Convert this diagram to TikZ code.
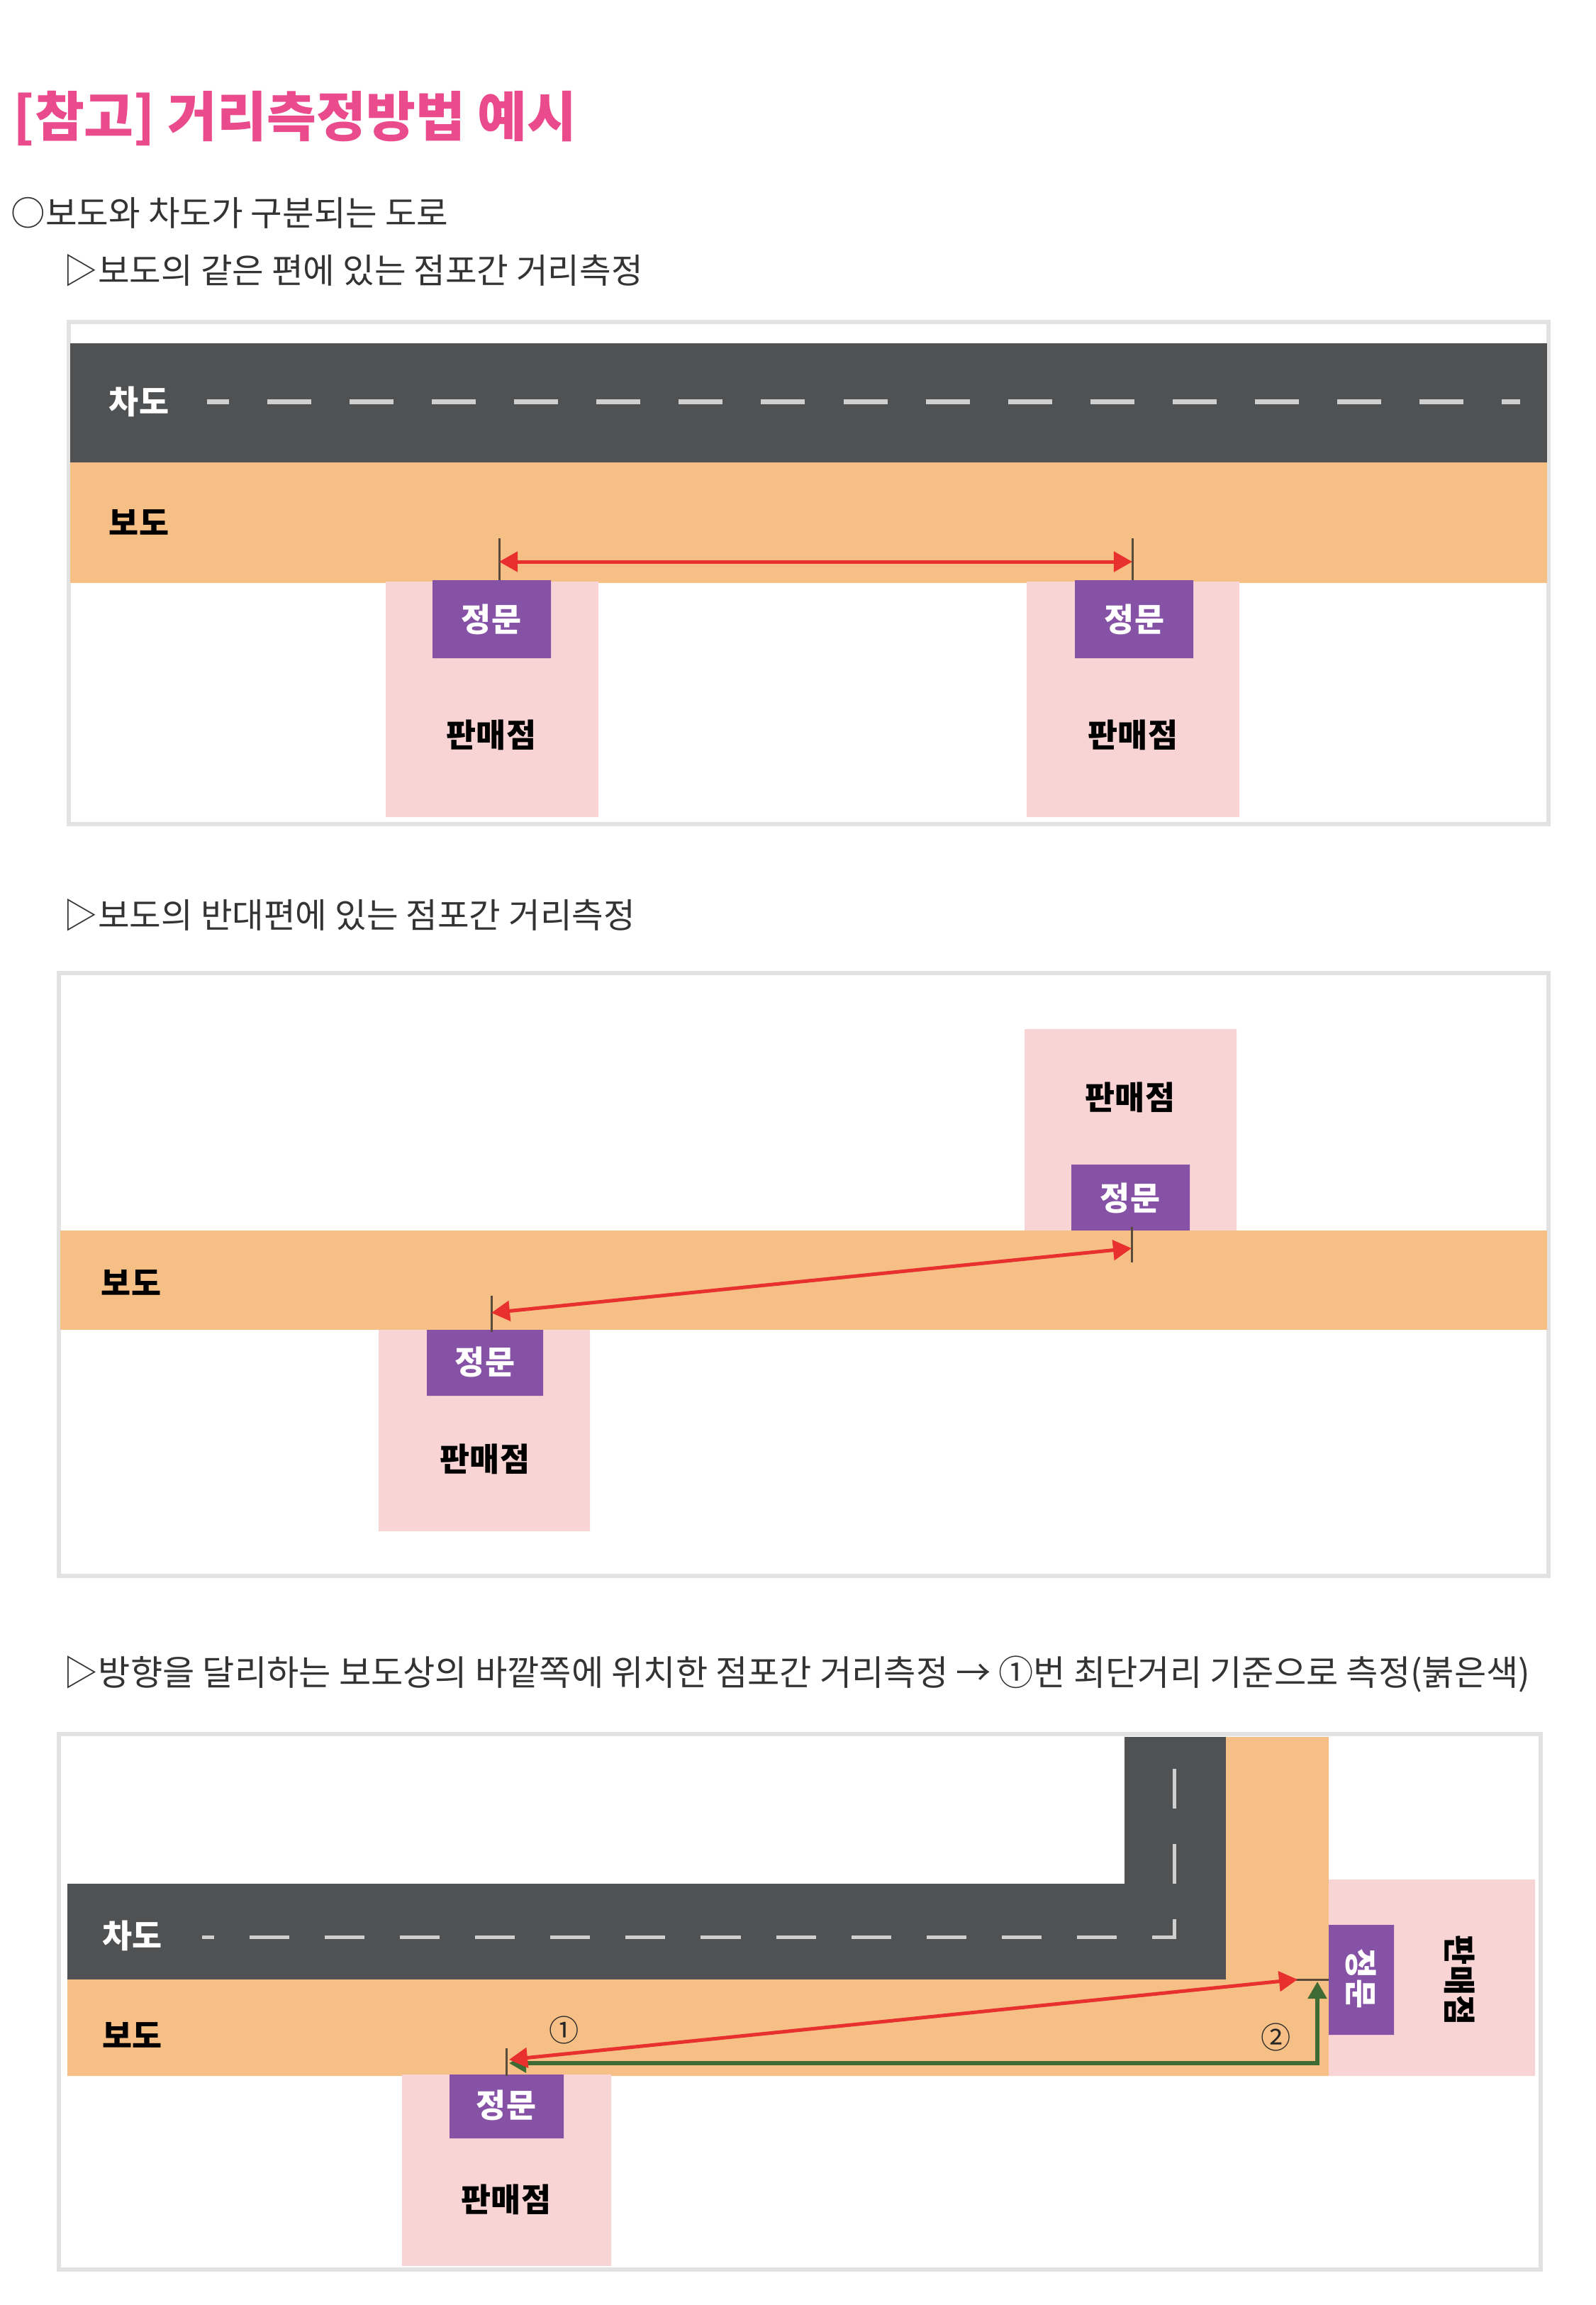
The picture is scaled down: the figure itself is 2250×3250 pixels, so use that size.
\documentclass[tikz,border=0pt]{standalone}
\usepackage{fontspec}
\setmainfont{Noto Sans CJK KR}
\usetikzlibrary{arrows.meta}

\definecolor{roadgray}{HTML}{505153}
\definecolor{walkorange}{HTML}{F6BF86}
\definecolor{shoppink}{HTML}{F9D4D4}
\definecolor{gatepurple}{HTML}{8652A5}
\definecolor{titlepink}{HTML}{EA4B8D}
\definecolor{measurered}{HTML}{E8302E}
\definecolor{measuregreen}{HTML}{3E6B34}
\definecolor{framegray}{HTML}{E2E2E2}
\definecolor{lanegray}{HTML}{CFCFCF}
\definecolor{tickbrown}{HTML}{5A4A3C}

\tikzset{
  panelframe/.style={draw=framegray,line width=0.06cm},
  subtitle/.style={anchor=west,inner sep=0pt,text=black!80,font=\fontsize{13.8}{16}\selectfont},
  roadtext/.style={inner sep=0pt,font=\fontsize{13}{15}\selectfont\bfseries},
  gatetext/.style={inner sep=0pt,text=white,font=\fontsize{13}{15}\selectfont\bfseries},
  shoptext/.style={inner sep=0pt,text=black,font=\fontsize{13}{15}\selectfont\bfseries},
  numtext/.style={inner sep=0pt,text=black!85,font=\fontsize{12}{14}\selectfont},
  lane/.style={draw=lanegray,line width=0.07cm},
  doortick/.style={draw=tickbrown,line width=0.03cm},
  measure/.style={draw=measurered,line width=0.05cm,
    {Triangle[length=0.26cm,width=0.28cm]}-{Triangle[length=0.26cm,width=0.28cm]}},
  second/.style={draw=measuregreen,line width=0.055cm,
    {Triangle[length=0.24cm,width=0.26cm]}-{Triangle[length=0.24cm,width=0.26cm]}}
}

\begin{document}
\begin{tikzpicture}[x=0.01cm,y=-0.01cm]
    \useasboundingbox (0,0) rectangle (2250,3250);

    % headings
    \node[anchor=west,inner sep=0pt,text=titlepink,font=\fontsize{21.6}{24}\selectfont\bfseries]
      (title) at (18,167) {[참고] 거리측정방법 예시};
    \node[subtitle] (kind) at (15,300) {○보도와 차도가 구분되는 도로};
    \node[subtitle] (case1) at (89,381) {▷보도의 같은 편에 있는 점포간 거리측정};

    % same side
    \draw[panelframe] (97,454) rectangle (2184,1162);
    \fill[roadgray] (99,484) rectangle (2182,652);
    \fill[walkorange] (99,652) rectangle (2182,822);
    \fill[shoppink] (544,820) rectangle (844,1152)
    (1448,820) rectangle (1748,1152);
    \fill[gatepurple] (610,818) rectangle (777,928)
    (1516,818) rectangle (1683,928);
    \draw[lane,dash pattern=on 0.62cm off 0.54cm,dash phase=0.31cm] (292,566) -- (2144,566);
    \node[roadtext,text=white] (road1) at (196,566) {차도};
    \node[roadtext] (walk1) at (196,736) {보도};
    \node[gatetext] (gate1a) at (693,873) {정문};
    \node[gatetext] (gate1b) at (1600,873) {정문};
    \node[shoptext] (shop1a) at (693,1036) {판매점};
    \node[shoptext] (shop1b) at (1598,1036) {판매점};
    \draw[doortick] (704,759) -- (704,818) (1597,759) -- (1597,818);
    \coordinate (door1a) at (704,792);
    \coordinate (door1b) at (1597,792);
    \draw[measure] (door1a) -- (door1b);

    % opposite side
    \node[subtitle] (case2) at (89,1290) {▷보도의 반대편에 있는 점포간 거리측정};
    \draw[panelframe] (83,1372) rectangle (2184,2222);
    \fill[shoppink] (1445,1451) rectangle (1744,1735)
    (534,1875) rectangle (832,2159);
    \fill[gatepurple] (1511,1642) rectangle (1678,1735)
    (602,1875) rectangle (766,1968);
    \fill[walkorange] (85,1735) rectangle (2182,1875);
    \node[roadtext] (walk2) at (185,1808) {보도};
    \node[shoptext] (shop2a) at (1594,1547) {판매점};
    \node[gatetext] (gate2a) at (1594,1689) {정문};
    \node[gatetext] (gate2b) at (684,1920) {정문};
    \node[shoptext] (shop2b) at (684,2057) {판매점};
    \draw[doortick] (1596,1730) -- (1596,1780) (693,1827) -- (693,1878);
    \coordinate (door2a) at (1596,1760);
    \coordinate (door2b) at (693,1851);
    \draw[measure] (door2b) -- (door2a);

    % corner
    \node[subtitle,font=\fontsize{14}{16}\selectfont] (case3) at (89,2360) {▷방향을 달리하는 보도상의 바깥쪽에 위치한 점포간 거리측정 → ①번 최단거리 기준으로 측정(붉은색)};
    \draw[panelframe] (83,2445) rectangle (2173,3200);
    \fill[roadgray] (1586,2449) rectangle (1729,2797)
    (95,2656) rectangle (1729,2791);
    \fill[walkorange] (95,2791) rectangle (1874,2927)
    (1729,2449) rectangle (1874,2791);
    \fill[shoppink] (1874,2650) rectangle (2165,2927)
    (567,2925) rectangle (862,3195);
    \fill[gatepurple] (1874,2714) rectangle (1966,2869)
    (634,2925) rectangle (795,3015);
    \draw[lane,line width=0.05cm,dash pattern=on 0.56cm off 0.5cm] (1656,2494) -- (1656,2731) -- (285,2731);
    \node[roadtext,text=white] (road3) at (187,2729) {차도};
    \node[roadtext] (walk3) at (187,2869) {보도};
    \node[gatetext] (gate3a) at (714,2968) {정문};
    \node[shoptext] (shop3a) at (714,3101) {판매점};
    \node[gatetext,rotate=-90] (gate3b) at (1920,2790) {정문};
    \node[shoptext,rotate=-90] (shop3b) at (2059,2792) {판매점};
    \draw[doortick] (714,2888) -- (714,2927) (1828,2791) -- (1874,2791);
    \coordinate (door3a) at (718,2904);
    \coordinate (door3b) at (1830,2791);
    \coordinate (door3c) at (718,2909);
    \coordinate (door3d) at (1858,2794);
    \draw[second] (door3d) |- (door3c);
    \draw[measure] (door3a) -- (door3b);
    \node[numtext] (first) at (796,2862) {①};
    \node[numtext] (other) at (1800,2872) {②};
\end{tikzpicture}
\end{document}
